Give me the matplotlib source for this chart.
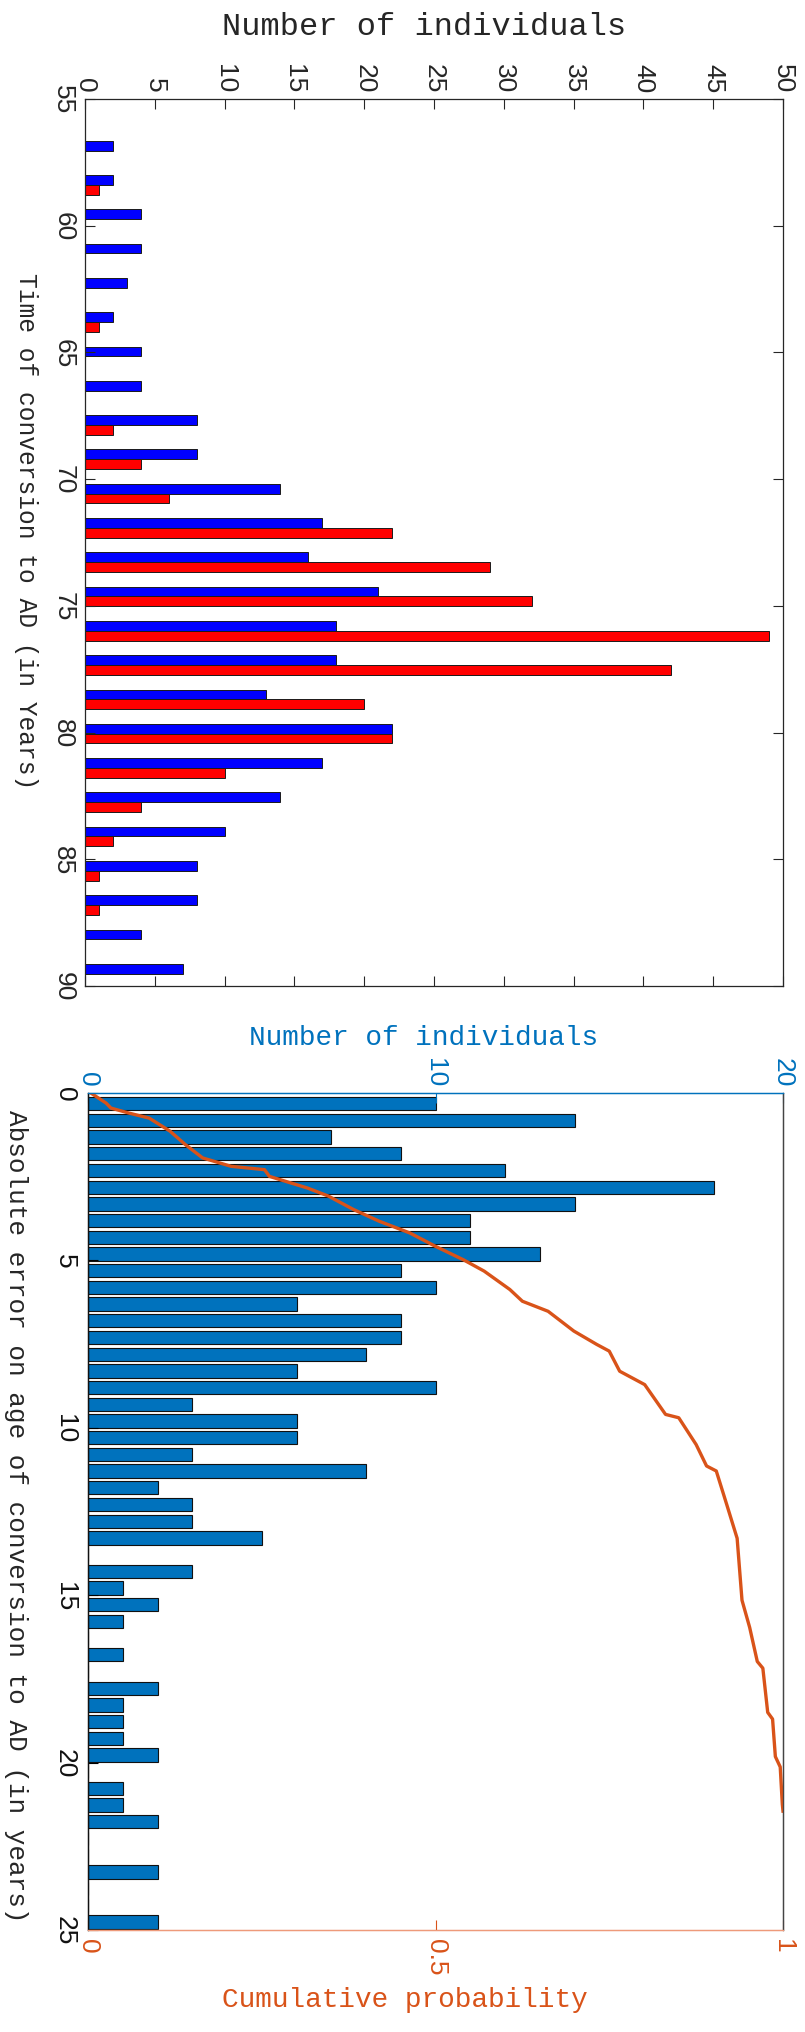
import numpy as np
import matplotlib
matplotlib.use("Agg")
from matplotlib import pyplot as plt

# Conversion-time histogram (25 bins), two groups
conv_lo, conv_hi = 56.36, 90.19
blue_counts = [2, 2, 4, 4, 3, 2, 4, 4, 8, 8, 14, 17, 16, 21, 18, 18, 13, 22, 17, 14, 10, 8, 8, 4, 7]
red_counts = [0, 1, 0, 0, 0, 1, 0, 0, 2, 4, 6, 22, 29, 32, 49, 42, 20, 22, 10, 4, 2, 1, 1, 0, 0]

# Absolute error histogram (50 bins)
err_lo, err_hi = 0.07, 25.01
err_counts = [10, 14, 7, 9, 12, 18, 14, 11, 11, 13,
              9, 10, 6, 9, 9, 8, 6, 10, 3, 6,
              6, 3, 8, 2, 3, 3, 5, 0, 3, 1,
              2, 1, 0, 1, 0, 2, 1, 1, 1, 2,
              0, 1, 1, 2, 0, 0, 2, 0, 0, 2]

# Empirical cumulative probability of the absolute error
cum_err = [0.0, 0.3, 0.45, 0.6, 0.75, 1.14, 1.54, 1.94, 2.19, 2.29, 2.49, 2.84, 3.08,
           3.48, 3.83, 4.18, 4.58, 4.98, 5.32, 5.87, 6.22, 6.52, 7.11, 7.51, 7.71,
           8.31, 8.71, 9.6, 9.7, 10.5, 11.14, 11.29, 12.29, 13.3, 15.15, 15.96,
           16.98, 17.18, 18.5, 18.7, 19.82, 20.13, 21.24, 21.45]
cum_prob = [0.004, 0.026, 0.033, 0.059, 0.088, 0.118, 0.14, 0.165, 0.206, 0.254, 0.261,
            0.316, 0.346, 0.382, 0.419, 0.463, 0.5, 0.54, 0.57, 0.607, 0.625, 0.662,
            0.699, 0.732, 0.75, 0.765, 0.801, 0.831, 0.85, 0.875, 0.89, 0.904, 0.919,
            0.934, 0.941, 0.952, 0.963, 0.971, 0.978, 0.985, 0.989, 0.996, 0.999, 1.0]

W, H = 805, 2033
DARK = "#262626"
MBLUE = "#0072BD"
MORANGE = "#D95319"
TICK_FONT = "Liberation Sans"
LABEL_FONT = "Liberation Mono"
TICK_SIZE = 19


def box(left, top, right, bottom):
    return [left / W, 1 - bottom / H, (right - left) / W, (bottom - top) / H]


def label_at(x, y, s, size, color=DARK, rotation=0):
    fig.text(x / W, 1 - y / H, s, ha="center", va="center", rotation=rotation,
             fontsize=size, family=LABEL_FONT, color=color)


fig = plt.figure(figsize=(W / 100, H / 100), dpi=100)

# ---- top panel: grouped horizontal bars ----
ax1 = fig.add_axes(box(85, 100, 783, 987))
n1 = len(blue_counts)
w1 = (conv_hi - conv_lo) / n1
c1 = conv_lo + w1 * (np.arange(n1) + 0.5)
bh = 0.286 * w1
ax1.barh(c1 - bh / 2, blue_counts, height=bh, color="#0000ff", edgecolor="#1a1a1a", linewidth=0.7)
ax1.barh(c1 + bh / 2, red_counts, height=bh, color="#ff0000", edgecolor="#1a1a1a", linewidth=0.7)
ax1.set_xlim(0, 50)
ax1.set_ylim(90, 55)
ax1.set_xticks(np.arange(0, 51, 5))
ax1.set_yticks(np.arange(55, 91, 5))
ax1.xaxis.tick_top()
ax1.tick_params(direction="in", length=7, width=0.8, color=DARK, labelcolor=DARK,
                top=True, bottom=True, left=True, right=True,
                labeltop=True, labelbottom=False, labelleft=True, labelright=False,
                labelsize=TICK_SIZE)
ax1.tick_params(axis="x", labelrotation=-90, pad=5)
ax1.tick_params(axis="y", labelrotation=-90, pad=7)
for lab in ax1.get_xticklabels() + ax1.get_yticklabels():
    lab.set_fontfamily(TICK_FONT)
for lab in ax1.get_yticklabels():
    lab.set_va("center")
for sp in ax1.spines.values():
    sp.set_color(DARK)
    sp.set_linewidth(0.9)

label_at(424, 27, "Number of individuals", 23)
label_at(26, 531, "Time of conversion to AD (in Years)", 17.7, rotation=-90)

# ---- bottom panel: error histogram + cumulative probability ----
ax2 = fig.add_axes(box(88, 1094, 783, 1931))
ax3 = ax2.twiny()

n2 = len(err_counts)
w2 = (err_hi - err_lo) / n2
c2 = err_lo + w2 * (np.arange(n2) + 0.5)
ax2.barh(c2, err_counts, height=0.8 * w2, color=MBLUE, edgecolor="#111111", linewidth=0.8)
ax2.set_xlim(0, 20)
ax2.set_ylim(25, 0)
ax2.set_xticks([0, 10, 20])
ax2.set_yticks(np.arange(0, 26, 5))
ax2.xaxis.tick_top()
ax2.tick_params(axis="x", direction="in", length=7, width=0.8, color=MBLUE, labelcolor=MBLUE,
                top=True, bottom=False, labeltop=True, labelbottom=False,
                labelrotation=-90, labelsize=TICK_SIZE, pad=5)
ax2.tick_params(axis="y", direction="in", length=7, width=0.8, color="k", labelcolor="#111111",
                left=True, right=False, labelleft=True, labelrotation=-90,
                labelsize=TICK_SIZE, pad=8)
for lab in ax2.get_xticklabels() + ax2.get_yticklabels():
    lab.set_fontfamily(TICK_FONT)
for lab in ax2.get_yticklabels():
    lab.set_va("center")

ax3.plot(cum_prob, cum_err, color=MORANGE, linewidth=2.4, solid_joinstyle="round")
ax3.set_xlim(0, 1)
ax3.set_ylim(25, 0)
ax3.set_xticks([0, 0.5, 1])
ax3.set_xticklabels(["0", "0.5", "1"])
ax3.xaxis.tick_bottom()
ax3.tick_params(axis="x", direction="in", length=7, width=0.8, color=MORANGE, labelcolor=MORANGE,
                top=False, bottom=True, labeltop=False, labelbottom=True,
                labelrotation=-90, labelsize=TICK_SIZE, pad=6)
for lab in ax3.get_xticklabels():
    lab.set_fontfamily(TICK_FONT)

for a in (ax2, ax3):
    a.spines["top"].set_color(MBLUE)
    a.spines["bottom"].set_color("#EE9A7A")
    a.spines["left"].set_color("#111111")
    a.spines["right"].set_color("#444444")
    for sp in a.spines.values():
        sp.set_linewidth(0.9)

label_at(424, 1038, "Number of individuals", 20, color=MBLUE)
label_at(405, 2000, "Cumulative probability", 20, color=MORANGE)
label_at(16, 1516, "Absolute error on age of conversion to AD (in years)", 18.8,
         rotation=-90)

fig.savefig("out.png", dpi=100, facecolor="white")
